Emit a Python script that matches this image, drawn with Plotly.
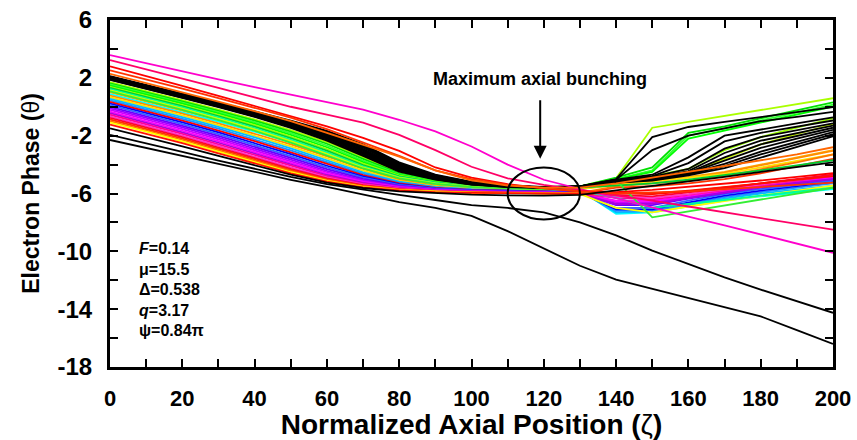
import plotly.graph_objects as go

# ---------------- data ----------------
zeta = [0, 10, 20, 30, 40, 50, 60, 70, 80, 90, 100, 110, 120, 130, 140, 150, 160, 170, 180, 190, 200]

x_tickvals = [0, 20, 40, 60, 80, 100, 120, 140, 160, 180, 200]
y_tickvals = [6, 2, -2, -6, -10, -14, -18]
y_ticktext = ["6", "2", "-2", "-6", "-10", "-14", "-18"]

# top lines (full length)
top_colors = ["#FF00CC", "#FF0066", "#FF0000", "#FF3300", "#FF6600"]
top_lines = [
    [3.57, 3.0, 2.45, 1.9, 1.35, 0.85, 0.35, -0.2, -0.9, -1.7, -2.75, -4.0, -5.05, -5.7, -6.3, -6.95, -7.6, -8.2, -8.85, -9.5, -10.1],
    [3.23, 2.6, 1.95, 1.3, 0.65, 0.0, -0.55, -1.1, -1.95, -3.0, -4.15, -4.95, -5.4, -5.75, -6.1, -6.5, -6.9, -7.3, -7.7, -8.1, -8.5],
    [2.8, 2.15, 1.45, 0.75, 0.05, -0.6, -1.35, -2.15, -3.05, -4.2, -4.9, -5.35, -5.65, -5.85, -5.9, -5.75, -5.55, -5.3, -5.1, -4.85, -4.6],
    [2.52, 1.9, 1.25, 0.6, -0.05, -0.75, -1.55, -2.45, -3.4, -4.4, -5.0, -5.4, -5.65, -5.85, -6.0, -5.95, -5.85, -5.7, -5.55, -5.4, -5.25],
    [2.28, 1.65, 1.0, 0.35, -0.3, -1.0, -1.8, -2.6, -3.45, -4.4, -5.1, -5.45, -5.6, -5.6, -5.3, -4.9, -4.5, -4.1, -3.7, -3.3, -2.8],
]

# black bundle: zeta 0..130 and 140..200
black_left = [
    [2.12, 1.52, 0.92, 0.31, -0.32, -0.96, -1.66, -2.6, -3.85, -4.7, -5.2, -5.45, -5.55, -5.5],
    [2.09, 1.49, 0.89, 0.28, -0.35, -1.0, -1.72, -2.68, -3.92, -4.74, -5.22, -5.46, -5.56, -5.5],
    [2.07, 1.47, 0.86, 0.24, -0.39, -1.05, -1.79, -2.76, -3.99, -4.78, -5.24, -5.47, -5.57, -5.51],
    [2.04, 1.44, 0.83, 0.21, -0.43, -1.1, -1.86, -2.84, -4.06, -4.82, -5.26, -5.48, -5.57, -5.51],
    [2.02, 1.42, 0.8, 0.18, -0.46, -1.15, -1.93, -2.92, -4.12, -4.86, -5.28, -5.49, -5.58, -5.52],
    [1.99, 1.39, 0.77, 0.15, -0.5, -1.2, -2.0, -3.0, -4.18, -4.89, -5.3, -5.5, -5.58, -5.52],
    [1.96, 1.36, 0.74, 0.11, -0.54, -1.25, -2.07, -3.08, -4.24, -4.92, -5.32, -5.51, -5.59, -5.53],
    [1.94, 1.33, 0.71, 0.08, -0.58, -1.3, -2.14, -3.16, -4.3, -4.95, -5.34, -5.52, -5.59, -5.53],
    [1.91, 1.3, 0.68, 0.04, -0.62, -1.35, -2.21, -3.24, -4.36, -4.98, -5.36, -5.53, -5.6, -5.54],
    [1.88, 1.27, 0.64, 0.0, -0.67, -1.41, -2.28, -3.32, -4.42, -5.01, -5.37, -5.54, -5.61, -5.54],
    [1.86, 1.25, 0.62, -0.03, -0.7, -1.46, -2.35, -3.4, -4.48, -5.04, -5.39, -5.55, -5.61, -5.55],
]
black_right = [
    [-5.0, -2.1, -1.4, -1.05, -0.7, -0.37, -0.03],
    [-5.05, -4.7, -3.5, -2.0, -1.55, -1.15, -0.73],
    [-5.05, -3.0, -2.0, -1.5, -1.0, -0.7, -0.35],
    [-5.1, -4.8, -3.9, -2.4, -1.8, -1.35, -0.95],
    [-5.1, -4.85, -4.3, -2.9, -2.1, -1.6, -1.15],
    [-5.15, -4.9, -4.45, -3.2, -2.35, -1.8, -1.3],
    [-5.15, -4.95, -4.55, -3.5, -2.6, -2.0, -1.45],
    [-5.2, -5.0, -4.6, -3.7, -2.85, -2.2, -1.6],
    [-5.2, -5.0, -4.65, -3.95, -3.1, -2.4, -1.75],
    [-5.25, -5.05, -4.7, -4.1, -3.3, -2.6, -1.9],
    [-5.25, -5.1, -4.75, -4.25, -3.5, -2.8, -2.05],
]

# green bundle: zeta 0..130 and 140..200
green_colors = ["#AAFF00", "#00E000", "#33FF33", "#00FF00", "#99FF00", "#00CC33", "#00FF99", "#CCFF00", "#33EE33"]
green_left = [
    [1.70, 1.09, 0.46, -0.2, -0.87, -1.62, -2.44, -3.48, -4.54, -5.07, -5.4, -5.56, -5.62, -5.5],
    [1.62, 1.01, 0.38, -0.28, -0.96, -1.72, -2.56, -3.6, -4.6, -5.1, -5.42, -5.57, -5.63, -5.5],
    [1.54, 0.93, 0.29, -0.37, -1.06, -1.83, -2.68, -3.72, -4.66, -5.14, -5.44, -5.58, -5.64, -5.52],
    [1.46, 0.85, 0.21, -0.46, -1.16, -1.94, -2.8, -3.83, -4.72, -5.18, -5.46, -5.59, -5.65, -5.53],
    [1.38, 0.77, 0.12, -0.56, -1.27, -2.06, -2.92, -3.93, -4.77, -5.21, -5.48, -5.6, -5.66, -5.55],
    [1.3, 0.69, 0.04, -0.65, -1.37, -2.17, -3.04, -4.03, -4.82, -5.24, -5.5, -5.61, -5.67, -5.6],
    [1.22, 0.61, -0.05, -0.74, -1.47, -2.28, -3.15, -4.12, -4.87, -5.27, -5.52, -5.62, -5.68, -5.8],
    [1.14, 0.53, -0.13, -0.83, -1.57, -2.38, -3.25, -4.2, -4.91, -5.3, -5.53, -5.63, -5.69, -5.55],
    [1.06, 0.45, -0.21, -0.92, -1.66, -2.48, -3.35, -4.27, -4.95, -5.33, -5.55, -5.64, -5.7, -5.5],
]
green_right = [
    [-4.95, -1.45, -1.05, -0.64, -0.23, 0.18, 0.59],
    [-4.9, -4.2, -1.8, -1.35, -0.8, -0.25, 0.31],
    [-5.0, -4.4, -2.0, -1.5, -0.95, -0.4, 0.15],
    [-5.0, -4.5, -2.2, -1.65, -1.1, -0.55, 0.02],
    [-5.05, -4.8, -4.3, -3.0, -2.1, -1.45, -0.8],
    [-5.45, -5.3, -5.05, -4.75, -4.4, -4.05, -3.7],
    [-6.3, -7.0, -6.75, -6.45, -6.15, -5.9, -5.6],
    [-5.1, -4.9, -4.55, -3.6, -2.6, -1.9, -1.2],
    [-5.1, -7.65, -7.24, -6.83, -6.42, -6.01, -5.6],
]

# lower rainbow bundle: zeta 0..130 and 140..200
lower_colors = ["#FFAA00", "#00FFFF", "#FF8C00", "#FFE000", "#00BFFF", "#1E90FF", "#FF0000", "#0000FF",
                "#3366FF", "#6600FF", "#9900FF", "#CC00FF", "#FF00FF", "#AA00DD", "#FF0099", "#FF33CC",
                "#FF0033", "#FF3300", "#FF7700", "#FFFF00", "#FF1100"]
lower_left = [
    [1.0, 0.38, -0.25, -0.9, -1.58, -2.32, -3.15, -4.05, -4.9, -5.38, -5.6, -5.7, -5.74, -5.7],
    [0.88, 0.26, -0.37, -1.03, -1.72, -2.47, -3.3, -4.18, -4.98, -5.42, -5.63, -5.72, -5.76, -5.75],
    [0.77, 0.15, -0.48, -1.15, -1.85, -2.6, -3.43, -4.3, -5.05, -5.46, -5.65, -5.74, -5.78, -5.65],
    [0.66, 0.04, -0.6, -1.27, -1.98, -2.74, -3.57, -4.42, -5.12, -5.5, -5.68, -5.76, -5.8, -5.7],
    [0.55, -0.07, -0.72, -1.4, -2.11, -2.88, -3.7, -4.53, -5.18, -5.54, -5.7, -5.78, -5.82, -5.85],
    [0.44, -0.18, -0.84, -1.52, -2.24, -3.01, -3.83, -4.63, -5.24, -5.58, -5.73, -5.8, -5.84, -5.88],
    [0.33, -0.3, -0.96, -1.65, -2.37, -3.15, -3.96, -4.73, -5.3, -5.61, -5.75, -5.82, -5.86, -5.9],
    [0.22, -0.41, -1.08, -1.77, -2.5, -3.28, -4.08, -4.82, -5.35, -5.64, -5.77, -5.84, -5.88, -5.92],
    [0.11, -0.52, -1.2, -1.9, -2.63, -3.41, -4.2, -4.91, -5.4, -5.67, -5.79, -5.85, -5.89, -5.94],
    [0.0, -0.64, -1.32, -2.02, -2.76, -3.54, -4.32, -4.99, -5.45, -5.7, -5.81, -5.87, -5.9, -5.95],
    [-0.11, -0.75, -1.43, -2.14, -2.88, -3.66, -4.43, -5.07, -5.5, -5.72, -5.83, -5.88, -5.92, -5.96],
    [-0.22, -0.86, -1.55, -2.26, -3.0, -3.78, -4.53, -5.14, -5.54, -5.75, -5.85, -5.9, -5.93, -5.97],
    [-0.33, -0.97, -1.66, -2.38, -3.12, -3.89, -4.63, -5.2, -5.58, -5.77, -5.86, -5.91, -5.94, -5.98],
    [-0.44, -1.08, -1.77, -2.49, -3.24, -4.0, -4.72, -5.26, -5.61, -5.79, -5.88, -5.92, -5.95, -5.99],
    [-0.55, -1.19, -1.88, -2.6, -3.35, -4.1, -4.8, -5.32, -5.64, -5.81, -5.89, -5.93, -5.96, -6.0],
    [-0.66, -1.3, -1.99, -2.71, -3.46, -4.2, -4.88, -5.37, -5.67, -5.83, -5.9, -5.94, -5.97, -6.0],
    [-0.77, -1.41, -2.1, -2.82, -3.56, -4.29, -4.95, -5.42, -5.7, -5.85, -5.91, -5.95, -5.98, -6.01],
    [-0.88, -1.52, -2.2, -2.92, -3.66, -4.38, -5.02, -5.46, -5.72, -5.86, -5.92, -5.96, -5.98, -6.0],
    [-0.99, -1.62, -2.3, -3.02, -3.75, -4.46, -5.08, -5.5, -5.74, -5.87, -5.93, -5.97, -5.99, -5.95],
    [-1.1, -1.72, -2.4, -3.11, -3.84, -4.53, -5.13, -5.54, -5.77, -5.88, -5.94, -5.97, -6.0, -6.02],
    [-1.24, -1.86, -2.52, -3.22, -3.94, -4.61, -5.18, -5.57, -5.79, -5.9, -5.95, -5.98, -6.0, -6.02],
]
lower_right = [
    [-5.35, -5.1, -4.85, -4.5, -4.0, -3.5, -3.0],
    [-7.4, -7.3, -6.9, -6.5, -6.2, -5.95, -5.7],
    [-5.4, -5.15, -4.9, -4.55, -4.05, -3.55, -3.05],
    [-5.45, -5.2, -4.95, -4.65, -4.2, -3.75, -3.3],
    [-7.3, -7.25, -6.8, -6.35, -6.0, -5.7, -5.45],
    [-7.2, -7.2, -6.7, -6.25, -5.9, -5.6, -5.3],
    [-6.0, -6.05, -5.85, -5.6, -5.35, -5.05, -4.75],
    [-7.1, -7.1, -6.6, -6.15, -5.8, -5.5, -5.2],
    [-7.0, -7.0, -6.5, -6.05, -5.7, -5.4, -5.1],
    [-6.8, -6.8, -6.35, -5.95, -5.6, -5.3, -5.0],
    [-6.7, -6.7, -6.3, -5.9, -5.55, -5.25, -4.95],
    [-6.6, -6.6, -6.25, -5.85, -5.5, -5.2, -4.9],
    [-6.5, -6.5, -6.2, -5.8, -5.45, -5.15, -4.9],
    [-6.75, -6.7, -6.3, -5.9, -5.55, -5.25, -5.0],
    [-6.3, -6.4, -6.1, -5.75, -5.4, -5.1, -4.8],
    [-6.2, -6.3, -6.05, -5.7, -5.35, -5.05, -4.75],
    [-6.1, -6.2, -5.95, -5.65, -5.3, -5.0, -4.7],
    [-5.6, -5.5, -5.3, -5.0, -4.6, -4.1, -3.6],
    [-5.5, -5.3, -5.1, -4.8, -4.35, -3.85, -3.3],
    [-7.0, -7.3, -6.9, -6.5, -6.15, -5.8, -5.45],
    [-5.95, -6.0, -5.8, -5.55, -5.3, -5.05, -4.8],
]

# lowest black trajectories (full length)
bottom_lines = [
    [-1.5, -2.1, -2.74, -3.4, -4.07, -4.7, -5.25, -5.62, -5.85, -5.98, -6.08, -6.13, -6.15, -6.1, -5.8, -5.5, -5.2, -4.85, -4.5, -4.2, -3.85],
    [-1.95, -2.52, -3.12, -3.72, -4.3, -4.85, -5.35, -5.75, -6.1, -6.45, -6.8, -7.0, -7.3, -8.0, -8.9, -9.95, -10.9, -11.8, -12.65, -13.45, -14.25],
    [-2.3, -2.85, -3.42, -4.0, -4.55, -5.05, -5.55, -6.05, -6.6, -7.0, -7.55, -8.6, -9.8, -11.0, -11.95, -12.6, -13.25, -13.85, -14.5, -15.45, -16.4],
]

params = ["<i>F</i>=0.14", "μ=15.5", "Δ=0.538", "<i>q</i>=3.17", "ψ=0.84π"]
params_y = [-9.8, -11.25, -12.65, -14.1, -15.5]

# ---------------- figure ----------------
fig = go.Figure()
LW = 1.8

def add(ys, color):
    fig.add_trace(go.Scatter(x=zeta, y=ys, mode="lines",
                             line=dict(color=color, width=LW), showlegend=False, hoverinfo="skip"))

for left, right, c in zip(lower_left, lower_right, lower_colors):
    add(left + right, c)
for left, right, c in zip(green_left, green_right, green_colors):
    add(left + right, c)
for left, right in zip(black_left, black_right):
    add(left + right, "#000000")
for ys, c in zip(top_lines, top_colors):
    add(ys, c)
for ys in bottom_lines:
    add(ys, "#000000")

# ellipse
fig.add_shape(type="circle", xref="x", yref="y", x0=110, x1=130, y0=-7.8, y1=-4.2,
              line=dict(color="black", width=2))
# arrow + label
fig.add_annotation(x=119, y=-3.6, ax=119, ay=0.55, xref="x", yref="y", axref="x", ayref="y",
                   text="", showarrow=True, arrowhead=2, arrowsize=1.3, arrowwidth=2, arrowcolor="black")
fig.add_annotation(x=119, y=1.9, xref="x", yref="y", text="<b>Maximum axial bunching</b>",
                   showarrow=False, font=dict(family="Liberation Sans, Arial", size=18, color="black"))
for t, yv in zip(params, params_y):
    fig.add_annotation(x=7.5, y=yv, xref="x", yref="y", text="<b>" + t + "</b>", showarrow=False,
                       xanchor="left", font=dict(family="Liberation Sans, Arial", size=16, color="black"))

axis_common = dict(showline=True, linewidth=3, linecolor="black", mirror="ticks", ticks="inside",
                   ticklen=8, tickwidth=2, tickcolor="black", showgrid=False, zeroline=False,
                   automargin=False)
fig.update_xaxes(range=[0, 200], tickmode="array", tickvals=x_tickvals,
                 minor=dict(tickmode="linear", tick0=0, dtick=10, ticks="inside", ticklen=8, tickwidth=2, tickcolor="black"),
                 tickfont=dict(family="Liberation Sans, Arial", size=22, color="black", weight="bold"),
                 ticklabelstandoff=10,
                 title=dict(text="<b>Normalized Axial Position (</b>ζ<b>)</b>", standoff=3,
                            font=dict(family="Liberation Sans, Arial", size=28, color="black")),
                 **axis_common)
fig.update_yaxes(range=[-18, 6], tickmode="array", tickvals=y_tickvals, ticktext=y_ticktext,
                 minor=dict(tickmode="linear", tick0=0, dtick=2, ticks="inside", ticklen=8, tickwidth=2, tickcolor="black"),
                 tickfont=dict(family="Liberation Sans, Arial", size=24, color="black", weight="bold"),
                 ticklabelstandoff=10,
                 title=dict(text="<b>Electron Phase (</b>θ<b>)</b>", standoff=12,
                            font=dict(family="Liberation Sans, Arial", size=23, color="black")),
                 **axis_common)
fig.update_layout(width=857, height=440, margin=dict(l=110, r=24, t=20, b=73),
                  plot_bgcolor="white", paper_bgcolor="white")
fig.write_html("out.html")
